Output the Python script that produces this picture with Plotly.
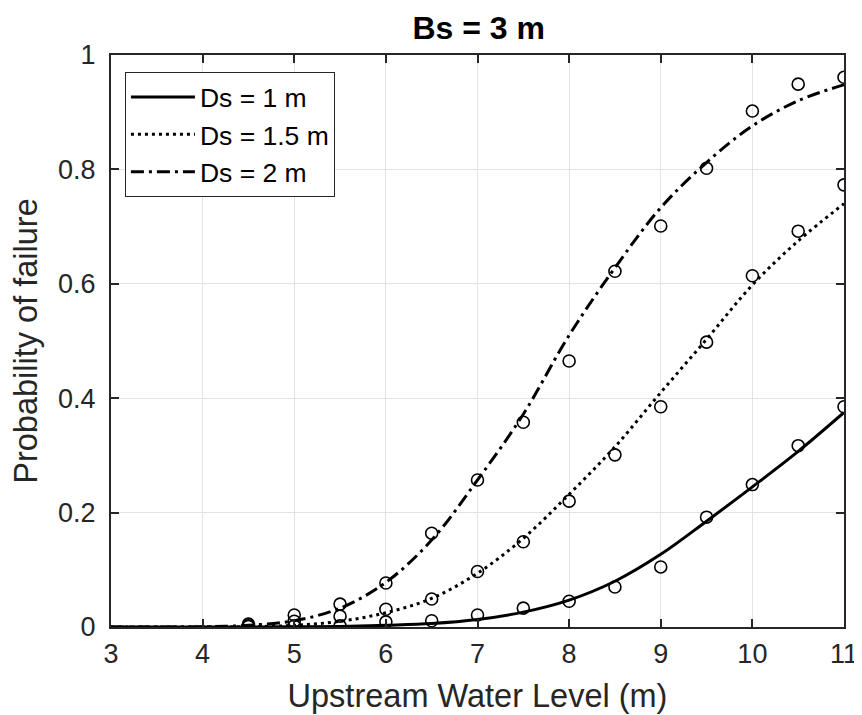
import plotly.graph_objects as go

# Fitted curves (at 0.5 m steps)
x_curve = [3, 3.5, 4, 4.5, 5, 5.5, 6, 6.5, 7, 7.5, 8, 8.5, 9, 9.5, 10, 10.5, 11]
curve_ds1 = [0, 0, 0, 0, 0.0003, 0.001, 0.003, 0.006, 0.013, 0.026, 0.047, 0.080, 0.127, 0.185, 0.245, 0.307, 0.375]
curve_ds15 = [0, 0, 0, 0.0005, 0.003, 0.010, 0.025, 0.050, 0.094, 0.155, 0.232, 0.315, 0.410, 0.503, 0.598, 0.675, 0.740]
curve_ds2 = [0, 0, 0.0004, 0.003, 0.011, 0.033, 0.078, 0.152, 0.257, 0.372, 0.510, 0.628, 0.733, 0.812, 0.876, 0.920, 0.948]

# Observed points (circles)
x_pts = [4.5, 5, 5.5, 6, 6.5, 7, 7.5, 8, 8.5, 9, 9.5, 10, 10.5, 11]
pts_ds1 = [0.001, 0.002, 0.002, 0.009, 0.011, 0.021, 0.033, 0.045, 0.070, 0.105, 0.192, 0.249, 0.317, 0.385]
pts_ds15 = [0.002, 0.010, 0.019, 0.031, 0.049, 0.097, 0.149, 0.220, 0.301, 0.385, 0.498, 0.614, 0.692, 0.773]
pts_ds2 = [0.005, 0.021, 0.040, 0.077, 0.164, 0.257, 0.358, 0.465, 0.622, 0.701, 0.802, 0.902, 0.949, 0.961]

names = ["Ds = 1 m", "Ds = 1.5 m", "Ds = 2 m"]
dashes = ["solid", "3px,4px", "13px,5px,3px,5px"]

x_ticks = [3, 4, 5, 6, 7, 8, 9, 10, 11]
y_ticks = [0, 0.2, 0.4, 0.6, 0.8, 1]
y_tick_labels = ["0", "0.2", "0.4", "0.6", "0.8", "1"]

FONT = "Liberation Sans, Arial, Helvetica, sans-serif"
TXT = "#262626"

fig = go.Figure()
for name, ys, dash in zip(names, [curve_ds1, curve_ds15, curve_ds2], dashes):
    fig.add_trace(go.Scatter(
        x=x_curve, y=ys, mode="lines", name=name,
        line=dict(color="black", width=3, dash=dash, shape="spline", smoothing=1.0),
    ))
for ys in [pts_ds1, pts_ds15, pts_ds2]:
    fig.add_trace(go.Scatter(
        x=x_pts, y=ys, mode="markers", showlegend=False,
        marker=dict(symbol="circle-open", size=12, color="black", line=dict(width=1.6, color="black")),
    ))

axis_common = dict(
    showline=True, linecolor=TXT, linewidth=2, mirror="ticks",
    ticks="inside", ticklen=8, tickwidth=1.5, tickcolor=TXT,
    showgrid=True, gridcolor="#e3e3e3", gridwidth=1,
    zeroline=False,
    tickfont=dict(family=FONT, size=27, color=TXT),
)

fig.update_layout(
    width=862, height=715,
    margin=dict(l=103, r=15, t=47, b=96),
    paper_bgcolor="white", plot_bgcolor="white",
    title=dict(text="<b>Bs = 3 m</b>", x=0.546, xref="container", xanchor="center",
               y=1 - 20 / 715, yref="container", yanchor="middle",
               font=dict(family=FONT, size=32, color="black")),
    xaxis=dict(range=[3, 11], tickvals=x_ticks, ticklabelstandoff=2,
               title=dict(text="Upstream Water Level (m)", standoff=16,
                          font=dict(family=FONT, size=32.5, color=TXT)),
               **axis_common),
    yaxis=dict(range=[0, 1], tickvals=y_ticks, ticktext=y_tick_labels, ticklabelstandoff=8,
               title=dict(text="Probability of failure", standoff=14,
                          font=dict(family=FONT, size=32.5, color=TXT)),
               **axis_common),
    legend=dict(x=0.019, y=0.97, xanchor="left", yanchor="top",
                bgcolor="white", bordercolor=TXT, borderwidth=1,
                font=dict(family=FONT, size=26.5, color="black"),
                itemwidth=64, tracegroupgap=0,
                entrywidth=225, entrywidthmode="pixels"),
    showlegend=True,
)

fig.write_html("out.html")
